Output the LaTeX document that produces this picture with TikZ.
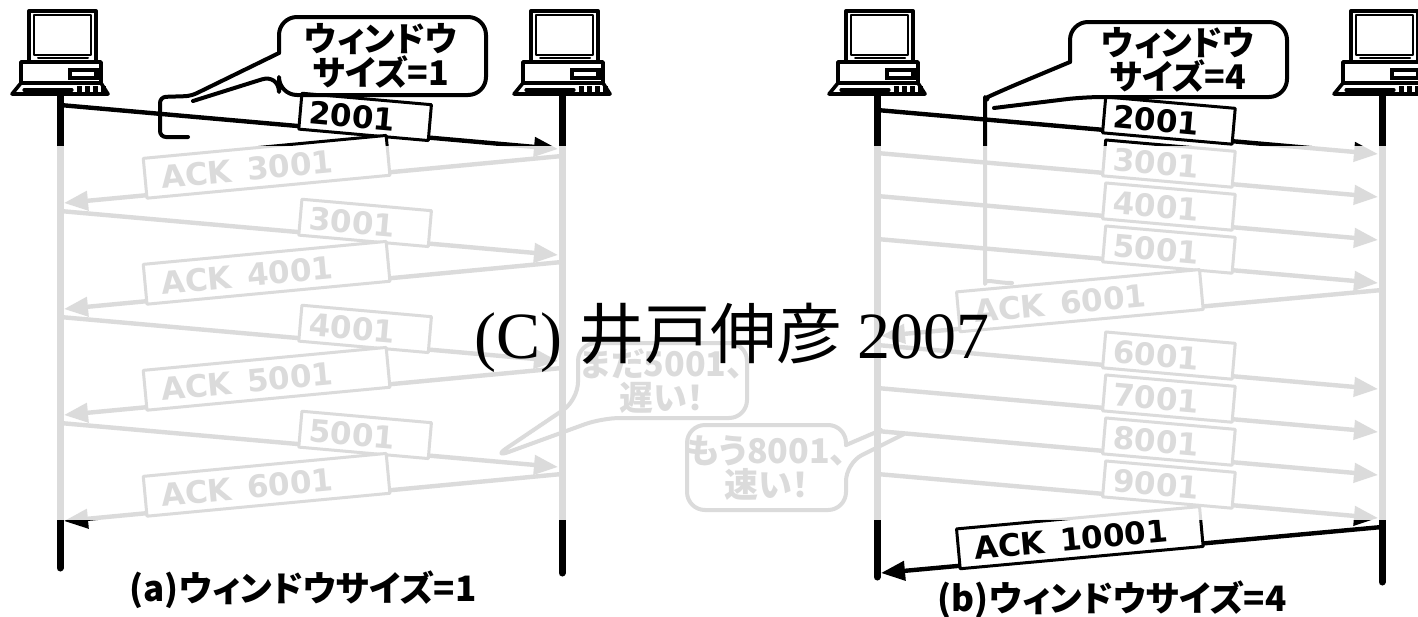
\documentclass[tikz,border=0pt]{standalone}
\usepackage{fontspec}
\setmainfont{DejaVu Sans}
\newfontfamily\numfont{DejaVu Sans}
\newfontfamily\jpfont{Noto Sans CJK JP}[RawFeature=+palt]
\newfontfamily\wmfont{Liberation Serif}
\usetikzlibrary{arrows.meta, positioning}

\tikzset{
    lifeline/.style={line width=3.5pt, line cap=round},
    msg/.style={line width=2.2pt, -{Triangle[length=12pt, width=9.5pt]}},
    numbox/.style={draw, fill=white, line width=1.5pt, sloped, anchor=south,
        outer sep=-1.5pt, inner xsep=4.5pt, inner ysep=3pt,
        text width=56pt, align=left, text height=12pt, text depth=0pt,
        font=\numfont\bfseries\fontsize{15.5}{16}\selectfont},
    ackbox/.style={numbox, inner xsep=8pt, inner ysep=4pt, text width=106pt},
    bubble/.style={line width=2pt, rounded corners=9pt},
    jptext/.style={align=center, font=\jpfont\bfseries\fontsize{17}{17}\selectfont},
    caption/.style={font=\jpfont\bfseries\fontsize{17.5}{18}\selectfont},
    pc/.pic={
        % monitor
        \draw[line width=2pt] (-31,11) rectangle (36,62);
        \draw[line width=1pt] (-26,15) rectangle (31,55);
        \draw[line width=1pt] (-22,58) -- (28,58);
        % body
        \draw[line width=1.8pt] (-39,62) rectangle (41,83);
        \fill (8,68) rectangle (39,80);
        \fill[white] (12,72) rectangle (34,76);
        % keyboard
        \draw[line width=1.8pt] (-39,83) -- (-48,94) -- (48,94) -- (41,83);
        \draw[line width=1.6pt] (-36,90) -- (12,90);
        \foreach \u in {17,25,33,41} {\fill (\u,86) rectangle ++(5,6);}
    }
}

\begin{document}
\begin{tikzpicture}[
        x=0.5pt,
        y=-0.5pt,
        line join=round,
        line cap=round
    ]
    \useasboundingbox (0,0) rectangle (1418,616);

    % =================================
    % LIFELINES
    % =================================
    \coordinate (aLtop) at (60,94);
    \coordinate (aLbot) at (60,568);
    \coordinate (aRtop) at (562,94);
    \coordinate (aRbot) at (562,573);
    \coordinate (bLtop) at (877,94);
    \coordinate (bLbot) at (877,577);
    \coordinate (bRtop) at (1382,94);
    \coordinate (bRbot) at (1382,582);

    \draw[lifeline] (aLtop) -- (aLbot);
    \draw[lifeline] (aRtop) -- (aRbot);
    \draw[lifeline] (bLtop) -- (bLbot);
    \draw[lifeline] (bRtop) -- (bRbot);

    \pic (pcAL) at (60,0) {pc};
    \pic (pcAR) at (562,0) {pc};
    \pic (pcBL) at (877,0) {pc};
    \pic (pcBR) at (1382,0) {pc};

    % =================================
    % (a) ONE SEGMENT, ONE ACK
    % =================================
    \foreach \k/\dat/\ack in {0/2001/3001, 1/3001/4001, 2/4001/5001, 3/5001/6001} {
        \pgfmathsetmacro{\ys}{105+106*\k}
        \coordinate (snd) at (60,\ys);
        \coordinate (rcv) at (558,\ys+44);
        \draw[msg] (snd) -- (rcv) node[numbox, pos=0.61] {\dat};
        \coordinate (ackS) at (562,\ys+51);
        \coordinate (ackR) at (64,\ys+98);
        \draw[msg] (ackS) -- (ackR) node[ackbox, pos=0.59] {ACK\hspace{0.5em}\ack};
    }

    % =================================
    % (b) FOUR SEGMENTS, ONE ACK
    % =================================
    \foreach \ys/\dat in {110/2001, 153/3001, 196/4001, 239/5001,
                          345/6001, 388/7001, 431/8001, 474/9001} {
        \coordinate (snd) at (877,\ys);
        \coordinate (rcv) at (1378,\ys+44);
        \draw[msg] (snd) -- (rcv) node[numbox, pos=0.58] {\dat};
    }
    \foreach \ys/\ack in {290/6001, 527/10001} {
        \coordinate (ackS) at (1382,\ys);
        \coordinate (ackR) at (881,\ys+46);
        \draw[msg] (ackS) -- (ackR) node[ackbox, pos=0.6] {ACK\hspace{0.5em}\ack};
    }

    % =================================
    % CALLOUTS
    % =================================
    % window size 1
    \draw[bubble] (279,53) -- (279,17) -- (486,17) -- (486,95) -- (279,95)
        -- (279,74) -- (193,101);
    \draw[bubble, rounded corners=3pt] (279,53) -- (191,96) -- (160,97)
        -- (160,137) -- (188,137);
    \node[jptext] (winA) at (381,56) {ウィンドウ\\サイズ=1};

    % window size 4
    \draw[bubble] (1070,62) -- (1070,22) -- (1287,22) -- (1287,97)
        -- (1084,97) -- (994,108);
    \draw[bubble] (1070,62) -- (1003,90)
        .. controls (990,96) and (985,104) .. (985,115) -- (985,266)
        .. controls (985,278) and (995,283) .. (1012,283);
    \node[jptext] (winB) at (1178,60) {ウィンドウ\\サイズ=4};

    % slow / fast
    \draw[bubble] (578,400) -- (578,343) -- (747,343) -- (747,418)
        -- (602,418) -- (492,458) -- cycle;
    \node[jptext] (slowA) at (662,381) {まだ5001、\\遅い！};

    \draw[bubble] (846,445) -- (846,425) -- (687,425) -- (687,510)
        -- (846,510) -- (846,463) -- (904,434);
    \draw[bubble] (846,445) -- (881,430);
    \node[jptext] (fastB) at (767,468) {もう8001、\\速い！};

    % =================================
    % CAPTIONS
    % =================================
    \node[caption] (capA) at (303,590) {(a)ウィンドウサイズ=1};
    \node[caption] (capB) at (1112,600) {(b)ウィンドウサイズ=4};

    % =================================
    % FADED BAND + MARK
    % =================================
    \fill[white, opacity=0.86] (0,146) rectangle (1418,520);
    \node[font=\fontsize{33}{33}\selectfont] (wm) at (732,338)
        {\wmfont (C) \jpfont 井戸伸彦 \wmfont 2007};

\end{tikzpicture}
\end{document}
